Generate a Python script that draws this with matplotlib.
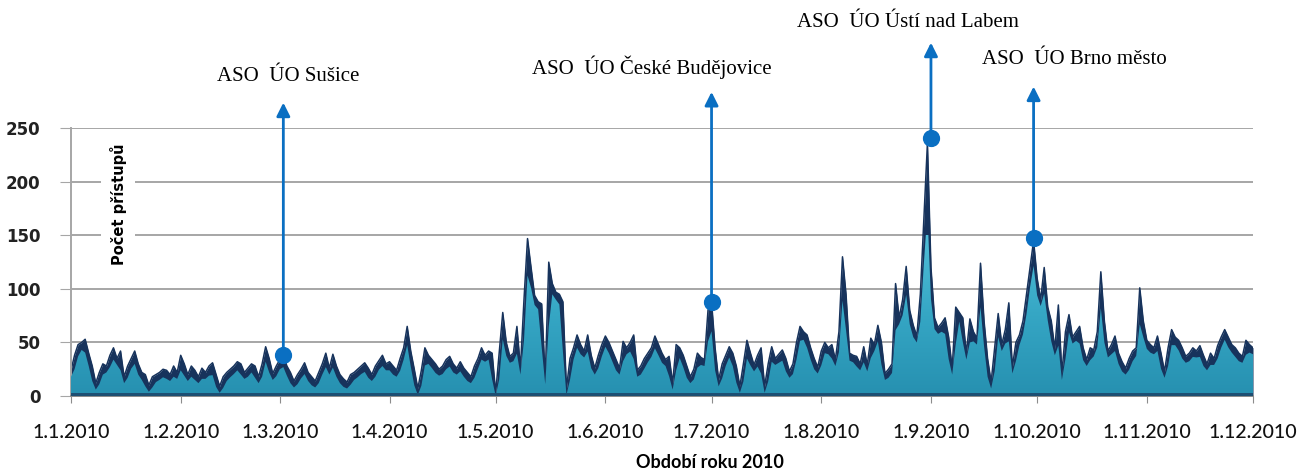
import numpy as np
import matplotlib.pyplot as plt
from matplotlib.colors import LinearSegmentedColormap

# denni pocet pristupu 1.1.2010 - 1.12.2010
jan = [24, 38, 48, 50, 53, 40, 28, 12, 22, 30, 28, 38, 45, 35, 42, 18, 28, 35, 42, 30, 22, 20, 10, 18, 20, 22, 25, 24, 20, 28, 22]
feb = [38, 30, 20, 28, 24, 18, 26, 22, 28, 31, 20, 9, 18, 22, 25, 28, 32, 30, 22, 26, 30, 28, 18, 30, 46, 35, 21, 28]
mar = [34, 38, 28, 22, 14, 20, 25, 31, 22, 18, 14, 22, 30, 40, 26, 39, 28, 20, 16, 13, 20, 22, 25, 28, 31, 26, 20, 28, 33, 38, 30]
apr = [32, 28, 24, 35, 45, 65, 42, 25, 7, 24, 45, 38, 34, 30, 25, 28, 34, 37, 30, 26, 32, 26, 22, 18, 28, 35, 45, 38, 42, 40]
may = [3, 40, 78, 50, 37, 40, 65, 26, 90, 147, 120, 94, 88, 86, 17, 125, 105, 97, 95, 88, 7, 35, 45, 57, 48, 42, 57, 38, 26, 38, 48]
jun = [56, 50, 42, 34, 26, 51, 45, 50, 57, 24, 28, 35, 40, 45, 56, 48, 40, 34, 37, 12, 48, 45, 38, 28, 18, 25, 40, 36, 34, 80]
jul = [88, 45, 15, 30, 38, 46, 40, 28, 9, 30, 52, 40, 29, 38, 45, 9, 30, 46, 35, 39, 43, 35, 23, 30, 50, 65, 60, 57, 45, 35, 27]
aug = [42, 50, 45, 48, 34, 60, 130, 95, 40, 38, 37, 30, 46, 29, 54, 48, 66, 50, 21, 25, 30, 105, 73, 90, 121, 80, 66, 56, 95, 165, 236]
sep = [120, 73, 64, 68, 73, 55, 26, 83, 78, 73, 40, 72, 60, 54, 124, 70, 35, 13, 45, 77, 48, 62, 87, 27, 50, 57, 70, 95, 120, 145]
octo = [110, 90, 120, 83, 70, 44, 85, 21, 60, 76, 55, 60, 65, 45, 34, 45, 43, 60, 116, 70, 42, 48, 56, 40, 32, 26, 35, 42, 45, 101, 70]
nov = [52, 48, 45, 56, 40, 23, 45, 62, 55, 52, 45, 37, 40, 45, 42, 47, 38, 30, 40, 35, 47, 55, 62, 55, 48, 45, 40, 37, 52, 48, 45]

values = np.array(jan + feb + mar + apr + may + jun + jul + aug + sep + octo + nov, dtype=float)
days = np.arange(len(values))

tick_days = [0, 31, 59, 90, 120, 151, 181, 212, 243, 273, 304, 334]
tick_labels = ['1.1.2010', '1.2.2010', '1.3.2010', '1.4.2010', '1.5.2010', '1.6.2010',
               '1.7.2010', '1.8.2010', '1.9.2010', '1.10.2010', '1.11.2010', '1.12.2010']

# popisky uradu: (den, hodnota bodu, konec sipky, text x, text y)
ann_names = ['ASO  ÚO Sušice', 'ASO  ÚO České Budějovice', 'ASO  ÚO Ústí nad Labem', 'ASO  ÚO Brno město']
ann_day = [60, 181, 243, 272]
ann_value = [38, 88, 241, 148]
ann_top = [274, 284, 330, 289]
ann_text_day = [61.4, 164, 236.4, 283.4]
ann_text_val = [298, 307, 349, 314]

navy = '#17335c'
blue = '#0a6fc2'

fig = plt.figure(figsize=(13, 4.7), dpi=100)
ax = fig.add_axes([71/1300, 74/470, 1182/1300, 267.7/470])

# mrizka
for v in [50, 100, 150, 200, 250]:
    ax.axhline(v, color='#a6a6a6', lw=1.4, zorder=0)

# tmavy "3D" horni okraj
ax.fill_between(days, 0, values, color=navy, lw=0, zorder=2)
ax.plot(days, values, color=navy, lw=1.1, zorder=2)

# svetlejsi celni plocha s prechodem
left = np.concatenate([[values[0]], values[:-1]])
right = np.concatenate([values[1:], [values[-1]]])
min3 = np.minimum(np.minimum(left, right), values)
front = np.maximum(0.5 * (values + min3) - 6, 0)
poly = ax.fill_between(days, 0, front, color='none', lw=0, zorder=3)
cmap = LinearSegmentedColormap.from_list('teal', ['#2690b0', '#35a6c4', '#4fbdd7'])
grad = np.linspace(0, 1, 256).reshape(-1, 1)
img = ax.imshow(grad, extent=[0, len(values) - 1, 0, 150], origin='lower', aspect='auto',
                cmap=cmap, zorder=3)
img.set_clip_path(poly.get_paths()[0], transform=ax.transData)

# spodni tmavy pruh
ax.fill_between(days, 0, 3, color='#1d4f73', lw=0, zorder=4)

# sipky a body
for i in range(len(ann_names)):
    ax.annotate('', xy=(ann_day[i], ann_top[i]), xytext=(ann_day[i], ann_value[i]),
                arrowprops=dict(arrowstyle='-|>', color=blue, lw=2, mutation_scale=20,
                                shrinkA=0, shrinkB=0),
                annotation_clip=False, zorder=6)
    ax.text(ann_text_day[i], ann_text_val[i], ann_names[i], ha='center', va='center',
            fontsize=15, family='Liberation Serif', color='black')
ax.scatter(ann_day, ann_value, s=130, color=blue, zorder=7, clip_on=False)

ax.set_xlim(0, len(values) - 1)
ax.set_ylim(0, 250)
ax.set_yticks([0, 50, 100, 150, 200, 250])
ax.set_xticks(tick_days)
ax.set_xticklabels(tick_labels, family='Lato', fontsize=14, fontweight='medium', color='#111111')
for lab in ax.get_yticklabels():
    lab.set_fontweight('bold')
    lab.set_fontsize(12)
    lab.set_color('#222222')
ax.tick_params(axis='y', length=8, color='#a6a6a6', pad=14)
ax.tick_params(axis='x', length=5, color='#8c8c8c', pad=15)

for s in ['top', 'right']:
    ax.spines[s].set_visible(False)
ax.spines['left'].set_color('#a6a6a6')
ax.spines['left'].set_linewidth(1.4)
ax.spines['bottom'].set_color('#8c8c8c')
ax.spines['bottom'].set_linewidth(1.4)

ax.text(13.3, 179, 'Počet přístupů', rotation=90, ha='center', va='center', fontsize=10.5,
        fontweight='bold', color='black', zorder=5,
        bbox=dict(facecolor='white', edgecolor='none', pad=6))
fig.text(710/1300, 1 - 462/470, 'Období roku 2010', ha='center', va='center',
         fontsize=13, fontweight='bold', family='Lato', color='black')

fig.savefig('out.png', dpi=100)
